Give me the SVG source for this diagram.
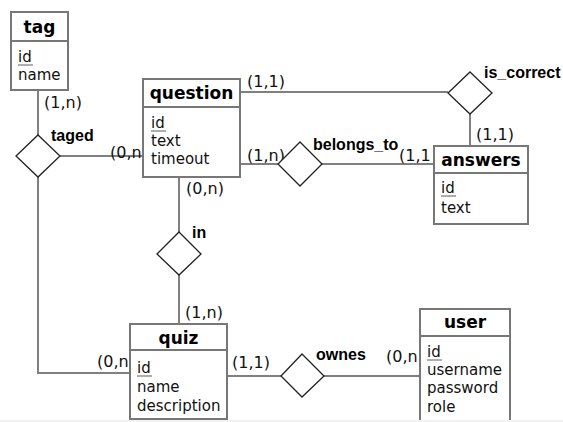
<svg xmlns="http://www.w3.org/2000/svg" width="563" height="422" viewBox="0 0 563 422">
<style>
.box{fill:#fff;stroke:#777;stroke-width:2}
.div{stroke:#777;stroke-width:2}
.dia{fill:#fff;stroke:#222;stroke-width:1.3}
.con{fill:none;stroke:#808080;stroke-width:2}
.title{font-family:"DejaVu Sans",sans-serif;font-weight:bold;font-size:17px;text-anchor:middle;fill:#000}
.attr{font-family:"DejaVu Sans",sans-serif;font-size:15px;fill:#111}
.ul{stroke:#777;stroke-width:1.2}
.rel{font-family:"Liberation Sans",Arial,sans-serif;font-weight:bold;font-size:16px;fill:#000}
.card{font-family:"DejaVu Sans",sans-serif;font-size:16px;fill:#111}
</style>
<rect width="563" height="422" fill="#fff"/>
<rect x="0" y="420" width="563" height="2" fill="#f2f2f2"/>
<g id="connectors">
<line class="con" x1="38" y1="90" x2="38" y2="135"/>
<line class="con" x1="60" y1="156" x2="143" y2="156"/>
<polyline class="con" points="38,177 38,373 130,373"/>
<line class="con" x1="240" y1="92" x2="448" y2="92"/>
<line class="con" x1="470" y1="114" x2="470" y2="146"/>
<line class="con" x1="240" y1="164" x2="278" y2="164"/>
<line class="con" x1="322" y1="164" x2="434" y2="164"/>
<line class="con" x1="179" y1="177" x2="179" y2="232"/>
<line class="con" x1="179" y1="275" x2="179" y2="324"/>
<line class="con" x1="227" y1="376" x2="281" y2="376"/>
<line class="con" x1="324" y1="376" x2="420" y2="376"/>
<text class="card" x="44" y="108">(1,n)</text>
<text class="card" x="110" y="158">(0,n</text>
<text class="card" x="247" y="87">(1,1)</text>
<text class="card" x="476" y="140">(1,1)</text>
<text class="card" x="247" y="161">(1,n)</text>
<text class="card" x="399" y="161">(1,1</text>
<text class="card" x="186" y="194">(0,n)</text>
<text class="card" x="185" y="318">(1,n)</text>
<text class="card" x="97" y="367">(0,n</text>
<text class="card" x="232" y="368">(1,1)</text>
<text class="card" x="386" y="362">(0,n</text>
</g>
<g id="tag">
<rect class="box" x="11" y="12" width="57" height="78"/>
<line class="div" x1="11" y1="41" x2="68" y2="41"/>
<text class="title" x="39.5" y="33">tag</text>
<text class="attr" x="18" y="62">id</text>
<line class="ul" x1="18" y1="65" x2="33" y2="65"/>
<text class="attr" x="18" y="80">name</text>
</g>
<g id="taged">
<polygon class="dia" points="38,135 60,156 38,177 16,156"/>
<text class="rel" x="51" y="141">taged</text>
</g>
<g id="question">
<rect class="box" x="143" y="79" width="97" height="98"/>
<line class="div" x1="143" y1="107" x2="240" y2="107"/>
<text class="title" x="191.5" y="99">question</text>
<text class="attr" x="151" y="128">id</text>
<line class="ul" x1="151" y1="131" x2="166" y2="131"/>
<text class="attr" x="151" y="146">text</text>
<text class="attr" x="151" y="164">timeout</text>
</g>
<g id="is_correct">
<polygon class="dia" points="470,72 492,93 470,114 448,93"/>
<text class="rel" x="484" y="78">is_correct</text>
</g>
<g id="belongs_to">
<polygon class="dia" points="300,142 322,164 300,186 278,164"/>
<text class="rel" x="313" y="150">belongs_to</text>
</g>
<g id="answers">
<rect class="box" x="434" y="146" width="94" height="78"/>
<line class="div" x1="434" y1="173" x2="528" y2="173"/>
<text class="title" x="481" y="166">answers</text>
<text class="attr" x="441" y="193">id</text>
<line class="ul" x1="441" y1="196" x2="456" y2="196"/>
<text class="attr" x="441" y="213">text</text>
</g>
<g id="in">
<polygon class="dia" points="179,232 201,254 179,275 157,254"/>
<text class="rel" x="192" y="238">in</text>
</g>
<g id="quiz">
<rect class="box" x="130" y="324" width="97" height="95"/>
<line class="div" x1="130" y1="350" x2="227" y2="350"/>
<text class="title" x="178.5" y="344">quiz</text>
<text class="attr" x="137" y="373">id</text>
<line class="ul" x1="137" y1="376" x2="152" y2="376"/>
<text class="attr" x="137" y="392">name</text>
<text class="attr" x="137" y="411">description</text>
</g>
<g id="ownes">
<polygon class="dia" points="302,354 324,376 302,397 281,376"/>
<text class="rel" x="316" y="360">ownes</text>
</g>
<g id="user">
<path class="box" d="M420,420 V309 H510 V420"/>
<line class="div" x1="420" y1="336" x2="510" y2="336"/>
<text class="title" x="465" y="328">user</text>
<text class="attr" x="427" y="357">id</text>
<line class="ul" x1="427" y1="360" x2="442" y2="360"/>
<text class="attr" x="427" y="375">username</text>
<text class="attr" x="427" y="393">password</text>
<text class="attr" x="427" y="412">role</text>
</g>
</svg>
